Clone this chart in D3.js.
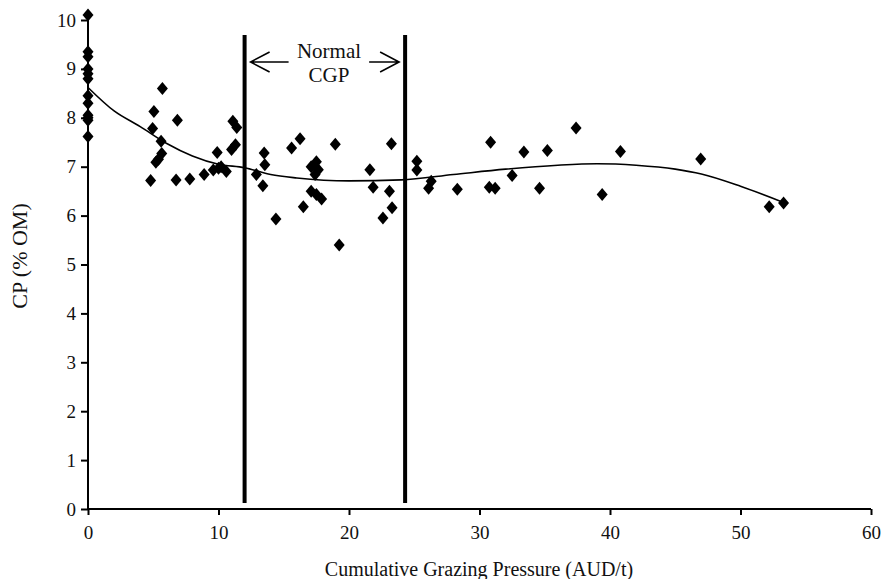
<!DOCTYPE html>
<html><head><meta charset="utf-8">
<script src="https://cdn.jsdelivr.net/npm/d3@7"></script>
<style>
html,body{margin:0;padding:0;background:#fff;}
svg{display:block;font-family:"Liberation Serif","Times New Roman",serif;}
</style></head>
<body>
<svg id="chart" width="881" height="579"></svg>
<script>
// Data
const cgp = [0,0,0,0,0,0,0,0,0,0,0,0,
  4.8,4.95,5.05,5.7,6.85,5.2,5.4,5.65,5.6,6.75,7.8,8.9,9.6,9.9,10.2,10.6,10.0,11.1,11.4,11.0,11.3,
  12.9,13.4,13.5,13.55,14.4,15.6,16.25,16.5,17.1,17.5,17.65,17.4,17.1,17.5,17.9,18.95,19.25,
  21.6,21.85,23.25,23.1,23.3,22.6,25.2,25.2,26.3,26.1,28.3,30.85,30.75,31.2,32.5,33.4,34.6,35.2,
  37.4,39.4,40.8,46.95,52.2,53.3];
const cp = [10.1,9.35,9.25,9.0,8.9,8.8,8.45,8.3,8.05,7.95,8.0,7.62,
  6.72,7.78,8.13,8.6,7.95,7.09,7.15,7.27,7.52,6.73,6.75,6.84,6.93,7.29,7.0,6.9,6.97,7.93,7.8,7.35,7.45,
  6.84,6.61,7.28,7.04,5.93,7.38,7.57,6.18,7.0,7.1,6.94,6.84,6.5,6.43,6.34,7.46,5.4,
  6.94,6.58,7.47,6.5,6.16,5.95,7.11,6.93,6.7,6.56,6.54,7.5,6.58,6.56,6.82,7.3,6.56,7.33,
  7.79,6.43,7.31,7.16,6.18,6.26];
const trendX = [0,2,4,6,8,10,12,14,16,20,24,28,32,36,39,42,45,47,50,53.2];
const trendY = [8.62,8.14,7.82,7.48,7.22,7.05,6.98,6.84,6.77,6.71,6.73,6.84,6.95,7.03,7.06,7.03,6.95,6.85,6.6,6.28];
const normalBounds = [12, 24.3];
const xTicks = [0,10,20,30,40,50,60];
const yTicks = [0,1,2,3,4,5,6,7,8,9,10];
const xTitle = "Cumulative Grazing Pressure (AUD/t)";
const yTitle = "CP (% OM)";
const noteLines = ["Normal", "CGP"];

const svg = d3.select("#chart");
const x = d3.scaleLinear().domain([0,60]).range([88,871]);
const y = d3.scaleLinear().domain([0,10]).range([509,20]);

// axes
const gx = svg.append("g").attr("transform","translate(0,509)")
  .call(d3.axisBottom(x).tickValues(xTicks).tickSize(6).tickSizeOuter(0).tickPadding(11));
const gy = svg.append("g").attr("transform","translate(88,0)")
  .call(d3.axisLeft(y).tickValues(yTicks).tickSize(7).tickSizeOuter(0).tickPadding(5));
[gx,gy].forEach(g=>{
  g.select(".domain").attr("stroke","#000").attr("stroke-width",2);
  g.selectAll(".tick line").attr("stroke","#000").attr("stroke-width",2);
  g.selectAll(".tick text").attr("fill","#111").style("font-family","Liberation Serif").style("font-size","19px");
});
gy.select(".domain").attr("d","M0,20V510");
gx.select(".domain").attr("d","M87,0H871");

// titles
svg.append("text").attr("x",479).attr("y",576).attr("text-anchor","middle")
  .style("font-size","20px").attr("fill","#111").text(xTitle);
svg.append("text").attr("transform","translate(27,256) rotate(-90)").attr("text-anchor","middle")
  .style("font-size","22px").attr("fill","#111").text(yTitle);

// normal CGP bounds
svg.selectAll("line.bound").data(normalBounds).enter().append("line").attr("class","bound")
  .attr("x1",d=>x(d)).attr("x2",d=>x(d)).attr("y1",35).attr("y2",503)
  .attr("stroke","#000").attr("stroke-width",4);

// annotation
const note = svg.append("text").attr("text-anchor","middle").style("font-size","21px").attr("fill","#111");
note.selectAll("tspan").data(noteLines).enter().append("tspan")
  .attr("x",329).attr("y",(d,i)=>58+i*24).text(d=>d);
const xl = x(normalBounds[0])+6, xr = x(normalBounds[1])-6;
const arrows = svg.append("g").attr("stroke","#000").attr("stroke-width",1.6).attr("fill","none");
arrows.append("path").attr("d",`M${xl+38},62H${xl} M${xl+19},52L${xl},62L${xl+19},72`);
arrows.append("path").attr("d",`M${xr-30},62H${xr} M${xr-19},52L${xr},62L${xr-19},72`);

// trend line
const pts = trendX.map((d,i)=>[d,trendY[i]]);
svg.append("path").datum(pts)
  .attr("d",d3.line().x(d=>x(d[0])).y(d=>y(d[1])).curve(d3.curveMonotoneX))
  .attr("fill","none").attr("stroke","#000").attr("stroke-width",1.6);

// markers
const diamond = "M0,-6.5 L5.5,0 L0,6.5 L-5.5,0Z";
svg.selectAll("path.pt").data(cgp.map((d,i)=>[d,cp[i]])).enter().append("path").attr("class","pt")
  .attr("d",diamond).attr("transform",d=>`translate(${x(d[0])},${y(d[1])})`)
  .attr("fill","#000");
</script>
</body></html>
